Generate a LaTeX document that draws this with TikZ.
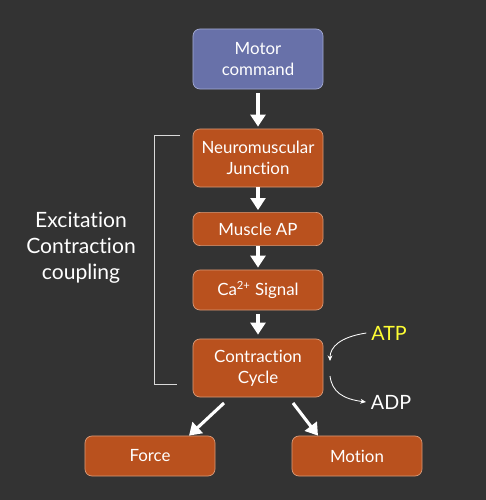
\documentclass[tikz,border=0pt]{standalone}
\usepackage{fontspec}
\setmainfont[Ligatures={NoCommon}]{Lato}
\usepackage{xcolor}
\usetikzlibrary{arrows.meta,positioning}

\definecolor{bgdark}{HTML}{333333}
\definecolor{boxorange}{HTML}{B9511E}
\definecolor{boxedge}{HTML}{D89A78}
\definecolor{boxblue}{HTML}{6871A9}
\definecolor{blueedge}{HTML}{A3AAD2}
\definecolor{atpyellow}{HTML}{FFFF33}

\begin{document}
\begin{tikzpicture}[
					x=0.025cm, y=-0.025cm,
					stage/.style={
							rectangle,
							rounded corners=5pt,
							draw=boxedge,
							fill=boxorange,
							line width=0.5pt,
							minimum width=3.25cm,
							inner sep=2pt,
							text=white,
							font=\fontsize{12}{15}\selectfont,
							align=center
						},
					bigarrow/.style={
							-{Triangle[width=10.5pt, length=8.5pt]},
							line width=2.2pt,
							draw=white
						},
					thinarrow/.style={
							-{Stealth[length=4pt, width=3.5pt]},
							line width=0.6pt,
							draw=white
						},
					sidelabel/.style={
							text=white,
							font=\fontsize{15}{18.5}\selectfont,
							align=center
						}
				]
				\fill[bgdark] (0,0) rectangle (486,500);
				\useasboundingbox (0,0) rectangle (486,500);

				\node[stage, fill=boxblue, draw=blueedge, minimum height=1.5cm] (motor) at (258, 59) {Motor\\command};
				\node[stage, minimum height=1.45cm] (nmj) at (258, 158) {Neuromuscular\\Junction};
				\node[stage, minimum height=0.83cm] (muscleap) at (258, 229) {Muscle AP};
				\node[stage, minimum height=1cm] (casignal) at (258, 290) {Ca\textsuperscript{2+} Signal};
				\node[stage, minimum height=1.45cm] (cycle) at (258, 368) {Contraction\\Cycle};
				\node[stage, minimum height=1cm] (force) at (150, 456) {Force};
				\node[stage, minimum height=1cm] (motion) at (357, 456) {Motion};

				\draw[bigarrow] ([yshift=-0.1cm]motor.south) -- ([yshift=0.05cm]nmj.north);
				\draw[bigarrow] (nmj.south) -- ([yshift=0.05cm]muscleap.north);
				\draw[bigarrow] (muscleap.south) -- ([yshift=0.05cm]casignal.north);
				\draw[bigarrow] ([yshift=-0.1cm]casignal.south) -- ([yshift=0.1cm]cycle.north);

				\coordinate (fstart) at (224, 403);
				\coordinate (mstart) at (293, 403);
				\draw[bigarrow] (fstart) -- (force.north -| 189, 0);
				\draw[bigarrow] (mstart) -- (motion.north -| 318, 0);

				% bracket round the coupling steps
				\coordinate (brtop) at (180, 135);
				\coordinate (brbot) at (177, 384);
				\draw[white!85!black, line width=0.6pt] (brtop) -- (154, 135) -- (154, 384) -- (brbot);

				\node[sidelabel] (ecc) at (81, 248) {Excitation\\Contraction\\coupling};

				\node[text=atpyellow, font=\fontsize{14}{16}\selectfont] (atp) at (389, 333) {ATP};
				\node[text=white, font=\fontsize{14}{16}\selectfont] (adp) at (391, 402) {ADP};

				\coordinate (atpin) at (330, 361);
				\coordinate (adpout) at (330, 376);
				\draw[thinarrow] (atp.west) .. controls (340, 337) and (330, 347) .. (atpin);
				\draw[thinarrow] (adpout) .. controls (332, 392) and (343, 399) .. (adp.west);
		\end{tikzpicture}
\end{document}
